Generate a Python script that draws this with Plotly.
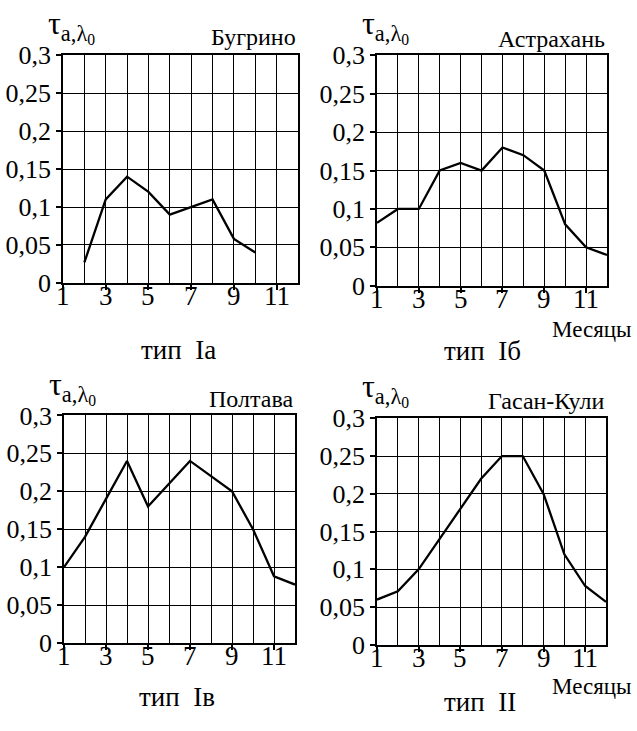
import plotly.graph_objects as go

# ---- data ----
months_1 = [2, 3, 4, 5, 6, 7, 8, 9, 10]
tau_bugrino = [0.027, 0.11, 0.14, 0.12, 0.09, 0.10, 0.11, 0.058, 0.04]

months_all = [1, 2, 3, 4, 5, 6, 7, 8, 9, 10, 11, 12]
tau_astrakhan = [0.082, 0.10, 0.10, 0.15, 0.16, 0.15, 0.18, 0.17, 0.15, 0.08, 0.05, 0.04]
tau_poltava = [0.10, 0.14, 0.19, 0.24, 0.18, 0.21, 0.24, 0.22, 0.20, 0.15, 0.088, 0.077]
tau_gasankuli = [0.06, 0.071, 0.10, 0.14, 0.18, 0.22, 0.25, 0.25, 0.20, 0.12, 0.078, 0.057]

stations = ["Бугрино", "Астрахань", "Полтава", "Гасан-Кули"]
types = ["тип  Iа", "тип  Iб", "тип  Iв", "тип  II"]
x_tickvals = [1, 3, 5, 7, 9, 11]
x_ticktext = ["1", "3", "5", "7", "9", "11"]
y_tickvals = [0, 0.05, 0.1, 0.15, 0.2, 0.25, 0.3]
y_ticktext = ["0", "0,05", "0,1", "0,15", "0,2", "0,25", "0,3"]
x_label = "Месяцы"

series = [(months_1, tau_bugrino), (months_all, tau_astrakhan),
          (months_all, tau_poltava), (months_all, tau_gasankuli)]

# ---- layout (pixel boxes) ----
W, H = 637, 731
boxes = [(63, 298, 43, 280), (377, 607, 43, 283), (64, 295, 418, 655), (377, 606, 421, 657)]
FONT = "Liberation Serif"


def px(x):
    return x / W


def py(y):
    return 1 - y / H


fig = go.Figure()
ann = []
for i, ((xs, ys), (x0, x1, y0, y1)) in enumerate(zip(series, boxes)):
    n = "" if i == 0 else str(i + 1)
    fig.add_trace(go.Scatter(x=xs, y=ys, mode="lines",
                             line=dict(color="black", width=2.3),
                             xaxis="x" + n, yaxis="y" + n, showlegend=False))
    fig.layout["xaxis" + n] = dict(
        domain=[px(x0), px(x1)], range=[1, 12], anchor="y" + n,
        tickmode="array", tickvals=x_tickvals, showticklabels=False,
        ticks="outside", ticklen=5, tickwidth=1.5, tickcolor="black",
        showline=True, linecolor="black", linewidth=1.5, mirror=True,
        showgrid=False, zeroline=False,
        minor=dict(tickmode="linear", tick0=1, dtick=1, showgrid=True,
                   gridcolor="black", gridwidth=1.3, ticks=""))
    fig.layout["yaxis" + n] = dict(
        domain=[py(y1), py(y0)], range=[0, 0.3], anchor="x" + n,
        tickmode="array", tickvals=y_tickvals, ticktext=y_ticktext,
        ticks="outside", ticklen=5, tickwidth=1.5, tickcolor="black",
        showline=True, linecolor="black", linewidth=1.5, mirror=True,
        showgrid=True, gridcolor="black", gridwidth=1.3, zeroline=False,
        tickfont=dict(family=FONT, size=26, color="black"))
    # x tick labels placed on the axis scale
    for v, t in zip(x_tickvals, x_ticktext):
        ann.append(dict(text=t, x=v, xref="x" + n, y=py(y1), yref="paper",
                        xanchor="center", yanchor="top", yshift=4, showarrow=False,
                        font=dict(family=FONT, size=27, color="black")))

title_y = [24, 26, 401, 403]
type_pos = [(178, 350), (482, 351), (177, 711), (480, 716)]
for i, (x0, x1, y0, y1) in enumerate(boxes):
    ann.append(dict(text=stations[i], x=px(x1), y=py(title_y[i]), xanchor="right", yanchor="middle",
                    font=dict(family=FONT, size=24, color="black")))
    ann.append(dict(text="τ<sub>a,λ<sub>0</sub></sub>", x=px(x0 - 17), y=py(y0 - 5),
                    xanchor="left", yanchor="bottom",
                    font=dict(family=FONT, size=32, color="black")))
    ann.append(dict(text=types[i], x=px(type_pos[i][0]), y=py(type_pos[i][1]),
                    xanchor="center", yanchor="middle",
                    font=dict(family=FONT, size=27, color="black")))
for yy in (329, 700):
    ann.append(dict(text=x_label, x=px(633), y=py(yy), xanchor="right", yanchor="middle",
                    font=dict(family=FONT, size=23, color="black")))
for a in ann:
    a.setdefault("xref", "paper")
    a.setdefault("yref", "paper")
    a["showarrow"] = False

fig.update_layout(width=W, height=H, margin=dict(l=0, r=0, t=0, b=0),
                  paper_bgcolor="white", plot_bgcolor="white",
                  annotations=ann, font=dict(family=FONT, color="black"))
fig.write_html("out.html")
